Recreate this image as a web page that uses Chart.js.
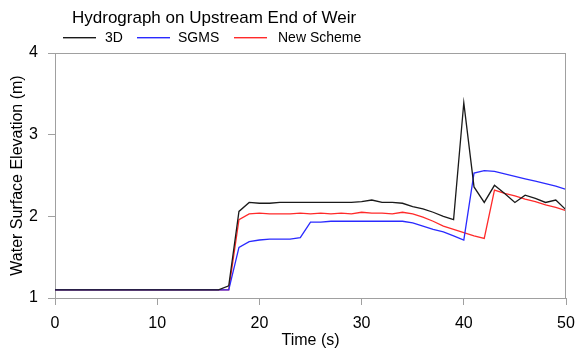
<!DOCTYPE html>
<html>
<head>
<meta charset="utf-8">
<script src="https://cdn.jsdelivr.net/npm/chart.js@4/dist/chart.umd.min.js"></script>
<style>
  html, body { margin: 0; padding: 0; background: #fff; }
  #wrap { width: 576px; height: 350px; position: relative; }
</style>
</head>
<body>
<div id="wrap"><canvas id="c" width="576" height="350"></canvas></div>
<script>
const chartTitle = 'Hydrograph on Upstream End of Weir';
const xAxisTitle = 'Time (s)';
const yAxisTitle = 'Water Surface Elevation (m)';
const seriesLabels = ['3D', 'SGMS', 'New Scheme'];
const seriesColors = ['#1a1a1a', '#2a2aff', '#ff2a2a'];

const times = [0,1,2,3,4,5,6,7,8,9,10,11,12,13,14,15,16,17,18,19,20,21,22,23,24,25,26,27,28,29,30,31,32,33,34,35,36,37,38,39,40,41,42,43,44,45,46,47,48,49,50];

const threeD = [1.1,1.1,1.1,1.1,1.1,1.1,1.1,1.1,1.1,1.1,1.1,1.1,1.1,1.1,1.1,1.1,1.1,1.15,2.06,2.17,2.16,2.16,2.17,2.17,2.17,2.17,2.17,2.17,2.17,2.17,2.18,2.2,2.17,2.17,2.16,2.12,2.09,2.05,2.0,1.96,3.39,2.36,2.17,2.38,2.28,2.17,2.26,2.22,2.17,2.2,2.08];

const sgms = [1.1,1.1,1.1,1.1,1.1,1.1,1.1,1.1,1.1,1.1,1.1,1.1,1.1,1.1,1.1,1.1,1.1,1.1,1.62,1.69,1.71,1.72,1.72,1.72,1.74,1.93,1.93,1.94,1.94,1.94,1.94,1.94,1.94,1.94,1.94,1.92,1.88,1.84,1.81,1.76,1.71,2.53,2.56,2.55,2.52,2.49,2.46,2.43,2.4,2.37,2.33];

const newScheme = [1.1,1.1,1.1,1.1,1.1,1.1,1.1,1.1,1.1,1.1,1.1,1.1,1.1,1.1,1.1,1.1,1.1,1.1,1.96,2.03,2.04,2.03,2.03,2.03,2.04,2.03,2.04,2.03,2.04,2.03,2.05,2.04,2.04,2.03,2.05,2.03,1.99,1.94,1.88,1.84,1.8,1.76,1.73,2.32,2.28,2.25,2.21,2.18,2.14,2.11,2.07];

const xTicks = [0, 10, 20, 30, 40, 50];
const yTicks = [1, 2, 3, 4];

const seriesValues = [threeD, sgms, newScheme];
const FONT = '"Liberation Sans", Arial, sans-serif';
const AXIS_COLOR = '#a0a0a0';

const framePlugin = {
  id: 'frame',
  afterDatasetsDraw(chart) {
    const a = chart.chartArea, ctx = chart.ctx;
    ctx.save();
    ctx.strokeStyle = AXIS_COLOR;
    ctx.lineWidth = 1;
    ctx.beginPath();
    ctx.moveTo(a.left, Math.round(a.top) + 0.5);
    ctx.lineTo(a.right, Math.round(a.top) + 0.5);
    ctx.moveTo(Math.round(a.right) - 0.5, a.top);
    ctx.lineTo(Math.round(a.right) - 0.5, a.bottom);
    ctx.stroke();
    ctx.restore();
  }
};

const legendLayout = { lineStarts: [63, 137, 234], lineLen: 33, textStarts: [105, 178, 278], lineTop: 37, lineH: 1.4, textY: 42 };

const headerPlugin = {
  id: 'header',
  afterDraw(chart) {
    const ctx = chart.ctx;
    ctx.save();
    ctx.textBaseline = 'alphabetic';
    ctx.textAlign = 'left';
    ctx.fillStyle = '#000';
    ctx.font = '17px ' + FONT;
    ctx.fillText(chartTitle, 72, 23);
    ctx.font = '14px ' + FONT;
    seriesLabels.forEach((lab, i) => {
      ctx.fillStyle = seriesColors[i];
      ctx.fillRect(legendLayout.lineStarts[i], legendLayout.lineTop, legendLayout.lineLen, legendLayout.lineH);
      ctx.fillStyle = '#000';
      ctx.fillText(lab, legendLayout.textStarts[i], legendLayout.textY);
    });
    ctx.restore();
  }
};

new Chart(document.getElementById('c'), {
  type: 'line',
  data: {
    datasets: seriesLabels.map((lab, i) => ({
      label: lab,
      data: times.map((t, k) => ({ x: t, y: seriesValues[i][k] })),
      borderColor: seriesColors[i],
      backgroundColor: seriesColors[i],
      borderWidth: 1.3,
      pointRadius: 0,
      tension: 0,
      fill: false
    }))
  },
  options: {
    responsive: false,
    animation: false,
    devicePixelRatio: 1,
    layout: { padding: { top: 53, right: 10, left: 0, bottom: 0 } },
    plugins: {
      legend: { display: false },
      title: { display: false },
      tooltip: { enabled: false }
    },
    scales: {
      x: {
        type: 'linear',
        min: xTicks[0],
        max: xTicks[xTicks.length - 1],
        afterBuildTicks(scale) { scale.ticks = xTicks.map(v => ({ value: v })); },
        afterFit(scale) { scale.height = 52; scale.paddingLeft = 0; scale.paddingRight = 0; },
        ticks: { color: '#000', font: { family: FONT, size: 16 }, padding: 9, maxRotation: 0 },
        grid: { drawOnChartArea: false, color: AXIS_COLOR, tickLength: 7 },
        border: { color: AXIS_COLOR },
        title: { display: true, text: xAxisTitle, color: '#000', font: { family: FONT, size: 16 }, padding: { top: 0, bottom: 0 } }
      },
      y: {
        type: 'linear',
        min: yTicks[0],
        max: yTicks[yTicks.length - 1],
        afterBuildTicks(scale) { scale.ticks = yTicks.map(v => ({ value: v })); },
        afterFit(scale) { scale.width = 55; scale.paddingTop = 0; scale.paddingBottom = 0; },
        ticks: { color: '#000', font: { family: FONT, size: 16 }, padding: 10 },
        grid: { drawOnChartArea: false, color: AXIS_COLOR, tickLength: 7 },
        border: { color: AXIS_COLOR },
        title: { display: true, text: yAxisTitle, color: '#000', font: { family: FONT, size: 16 }, padding: { top: 8, bottom: 0 } }
      }
    }
  },
  plugins: [framePlugin, headerPlugin]
});
</script>
</body>
</html>
